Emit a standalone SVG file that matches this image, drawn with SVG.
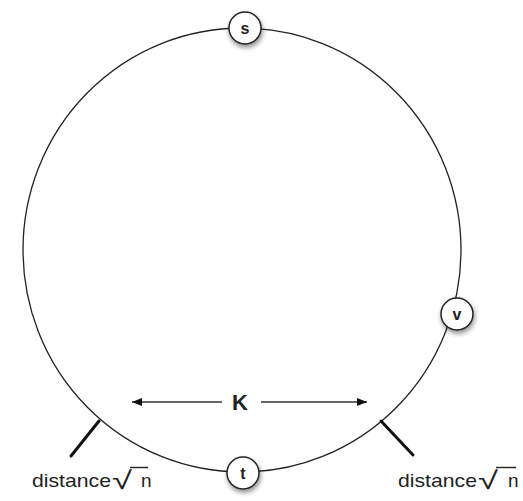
<svg xmlns="http://www.w3.org/2000/svg" width="523" height="501" viewBox="0 0 523 501">
<defs>
<marker id="ah" viewBox="0 0 10 10" refX="10" refY="5" markerWidth="10" markerHeight="10" markerUnits="userSpaceOnUse" orient="auto">
<path d="M0,1 L10,5 L0,9 Z" fill="#111"/>
</marker>
<filter id="sh" x="-50%" y="-50%" width="200%" height="200%">
<feGaussianBlur in="SourceAlpha" stdDeviation="2.5"/>
<feOffset dx="1" dy="3" result="b"/>
<feComponentTransfer><feFuncA type="linear" slope="0.45"/></feComponentTransfer>
<feMerge><feMergeNode/><feMergeNode in="SourceGraphic"/></feMerge>
</filter>
</defs>
<style>
.ring{fill:none;stroke:#222;stroke-width:1.3}
.node circle{fill:#fff;stroke:#222;stroke-width:1.5;filter:url(#sh)}
.node text{font-family:"Liberation Sans",Arial,sans-serif;font-size:16px;font-weight:bold;fill:#222;text-anchor:middle}
.tick{stroke:#111;stroke-width:3;stroke-linecap:round}
.lbl{font-family:"Liberation Sans",Arial,sans-serif;font-size:19px;fill:#222}
.rad{font-family:"Liberation Sans",Arial,sans-serif;font-size:25px;fill:#222}
.arr{stroke:#333;stroke-width:1.5;fill:none}
.vin{stroke:#222;stroke-width:1.4;fill:none}
</style>
<rect width="523" height="501" fill="#fff"/>
<g id="connectors">
<ellipse class="ring" cx="242" cy="250" rx="219" ry="222"/>
<line class="tick" x1="71" y1="456" x2="99" y2="421"/>
<line class="tick" x1="381" y1="421" x2="413" y2="455"/>
<line class="arr" x1="222" y1="402" x2="132" y2="402" marker-end="url(#ah)"/>
<line class="arr" x1="261" y1="402" x2="367" y2="402" marker-end="url(#ah)"/>
</g>
<g id="K"><text x="240" y="410" font-family="Liberation Sans,Arial,sans-serif" font-size="22" font-weight="bold" text-anchor="middle" fill="#222">K</text></g>
<g id="s" class="node"><circle cx="245" cy="28" r="16"/><text x="245" y="34">s</text></g>
<g id="v" class="node"><circle cx="457" cy="314" r="16"/><text x="457" y="320">v</text></g>
<g id="t" class="node"><circle cx="243" cy="473" r="16"/><text x="243" y="479">t</text></g>
<g id="label-left">
<text class="lbl" x="32" y="487" textLength="79" lengthAdjust="spacingAndGlyphs">distance</text>
<text class="rad" x="112" y="489" textLength="20" lengthAdjust="spacingAndGlyphs">√</text>
<line class="vin" x1="130" y1="467.5" x2="148" y2="467.5"/>
<text class="lbl" x="141" y="487">n</text>
</g>
<g id="label-right">
<text class="lbl" x="398" y="487" textLength="79" lengthAdjust="spacingAndGlyphs">distance</text>
<text class="rad" x="478" y="489" textLength="20" lengthAdjust="spacingAndGlyphs">√</text>
<line class="vin" x1="496" y1="467.5" x2="516" y2="467.5"/>
<text class="lbl" x="508" y="487">n</text>
</g>
</svg>
